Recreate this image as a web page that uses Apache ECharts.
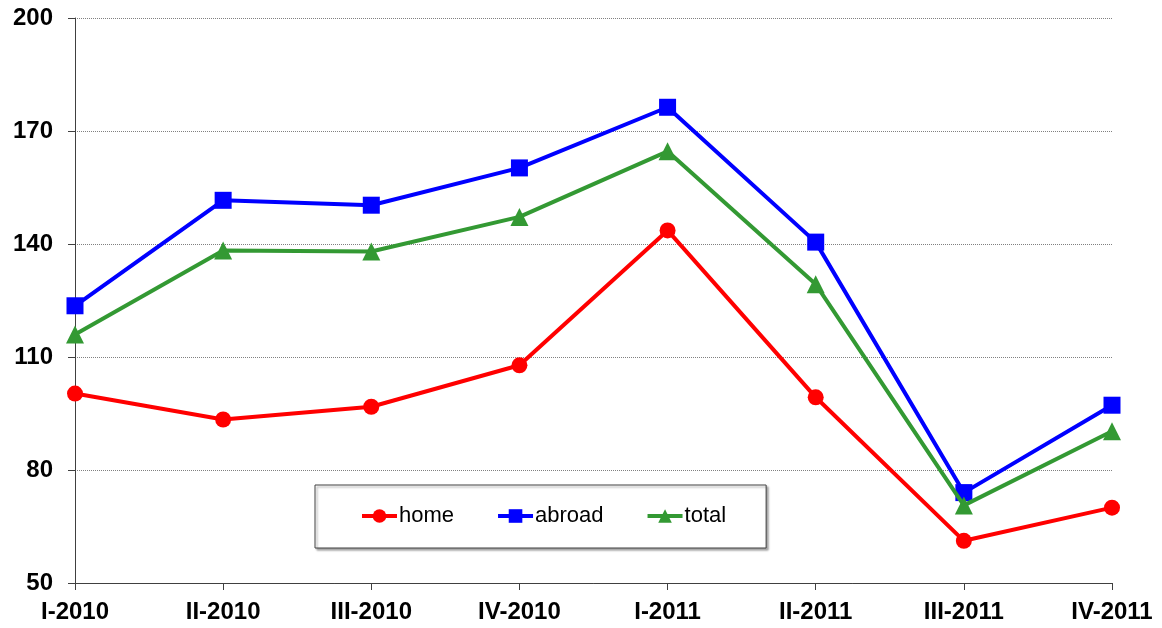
<!DOCTYPE html>
<html>
<head>
<meta charset="UTF-8">
<script src="https://cdn.jsdelivr.net/npm/echarts@6/dist/echarts.min.js"></script>
<style>
    html, body { margin: 0; padding: 0; background: #fff; }
    #chart { width: 1162px; height: 628px; }
</style>
</head>
<body>
<div id="chart"></div>
<script>
    let quarters = ['I-2010', 'II-2010', 'III-2010', 'IV-2010', 'I-2011', 'II-2011', 'III-2011', 'IV-2011'];
    let homeList = [100.3, 93.4, 96.8, 107.8, 143.6, 99.3, 61.2, 70.0];
    let abroadList = [123.6, 151.6, 150.3, 160.2, 176.3, 140.5, 74.0, 97.2];
    let totalList = [116.0, 138.3, 138.0, 147.2, 164.6, 129.3, 70.6, 90.3];

    let chart = echarts.init(document.getElementById('chart'));
    let option = {
        backgroundColor: '#fff',
        animation: false,
        grid: {
            left: 75,
            right: 50,
            top: 18,
            bottom: 45
        },
        legend: {
            left: 315,
            top: 485,
            padding: [20, 40, 21, 45],
            itemGap: 42,
            itemWidth: 35,
            itemHeight: 17,
            backgroundColor: '#fff',
            borderColor: '#404040',
            borderWidth: 1,
            shadowColor: 'rgba(0,0,0,0.35)',
            shadowBlur: 2,
            shadowOffsetX: 2,
            shadowOffsetY: 2,
            lineStyle: { width: 4 },
            textStyle: {
                fontFamily: 'Liberation Sans, Arial, sans-serif',
                fontSize: 22,
                lineHeight: 22,
                color: '#000',
                padding: [0, 0, 0, -3]
            },
            data: ['home', 'abroad', 'total']
        },
        xAxis: {
            type: 'category',
            boundaryGap: false,
            data: quarters,
            axisLine: { lineStyle: { color: '#404040', width: 1 } },
            axisTick: { show: true, length: 7, inside: false, lineStyle: { color: '#404040' } },
            axisLabel: {
                margin: 17,
                color: '#000',
                fontFamily: 'Liberation Sans, Arial, sans-serif',
                fontWeight: 'bold',
                fontSize: 24
            },
            splitLine: { show: false }
        },
        yAxis: {
            type: 'value',
            min: 50,
            max: 200,
            interval: 30,
            axisLine: { show: true, lineStyle: { color: '#404040', width: 1 } },
            axisTick: { show: true, length: 7, lineStyle: { color: '#404040' } },
            axisLabel: {
                margin: 22,
                color: '#000',
                fontFamily: 'Liberation Sans, Arial, sans-serif',
                fontWeight: 'bold',
                fontSize: 24
            },
            splitLine: {
                show: true,
                lineStyle: { color: '#808080', type: 'dotted', width: 1 }
            }
        },
        series: [
            {
                name: 'home',
                type: 'line',
                data: homeList,
                symbol: 'circle',
                symbolSize: 16,
                color: '#ff0000',
                lineStyle: { width: 4, color: '#ff0000' },
                itemStyle: { color: '#ff0000' },
                z: 3
            },
            {
                name: 'abroad',
                type: 'line',
                data: abroadList,
                symbol: 'rect',
                symbolSize: 17,
                color: '#0000ff',
                lineStyle: { width: 4, color: '#0000ff' },
                itemStyle: { color: '#0000ff' },
                z: 4
            },
            {
                name: 'total',
                type: 'line',
                data: totalList,
                symbol: 'triangle',
                symbolSize: 18,
                color: '#339933',
                lineStyle: { width: 4, color: '#339933' },
                itemStyle: { color: '#339933' },
                z: 5
            }
        ]
    };
    chart.setOption(option);
</script>
</body>
</html>
